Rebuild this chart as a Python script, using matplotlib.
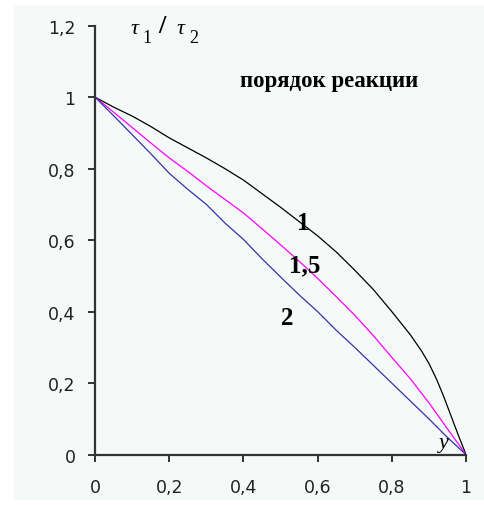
import matplotlib.pyplot as plt
from matplotlib.patches import Rectangle
from matplotlib.ticker import FuncFormatter

# conversion y
x_vals = [0, 0.05, 0.1, 0.15, 0.2, 0.25, 0.3, 0.35, 0.4, 0.45, 0.5,
          0.55, 0.6, 0.65, 0.7, 0.75, 0.8, 0.85, 0.9, 0.95, 1.0]

# order 1 (black) - denser near the end
x_order1 = [0, 0.05, 0.1, 0.15, 0.2, 0.25, 0.3, 0.35, 0.4, 0.45, 0.5,
            0.55, 0.6, 0.65, 0.7, 0.75, 0.8, 0.85, 0.88, 0.9, 0.92, 0.94, 0.96, 0.98, 1.0]
y_order1 = [1.0, 0.972, 0.947, 0.918, 0.886, 0.858, 0.830, 0.800, 0.768, 0.730, 0.692,
            0.652, 0.612, 0.567, 0.516, 0.462, 0.400, 0.335, 0.290, 0.255, 0.212, 0.162,
            0.107, 0.052, 0.0]

# order 1.5 (magenta)
y_order15 = [1.0, 0.958, 0.915, 0.872, 0.830, 0.792, 0.752, 0.714, 0.676, 0.632, 0.587,
             0.541, 0.493, 0.442, 0.390, 0.333, 0.272, 0.212, 0.145, 0.072, 0.0]

# order 2 (blue)
y_order2 = [1.0, 0.948, 0.895, 0.842, 0.787, 0.742, 0.700, 0.648, 0.602, 0.548, 0.497,
            0.447, 0.400, 0.348, 0.300, 0.250, 0.200, 0.150, 0.100, 0.048, 0.0]

xticks = [0, 0.2, 0.4, 0.6, 0.8, 1.0]
yticks = [0, 0.2, 0.4, 0.6, 0.8, 1.0, 1.2]

plt.rcParams['font.family'] = ['Liberation Sans Narrow', 'DejaVu Sans']

fig = plt.figure(figsize=(4.85, 5.06), dpi=100)
bg = '#f5faf8'
# chart area background (Excel style)
fig.patches.append(Rectangle((14 / 485, 6 / 506), 1 - 14 / 485, 1 - 12 / 506,
                             transform=fig.transFigure, color=bg, zorder=-5))

ax = fig.add_axes([0.196, 0.0994, 0.765, 0.848])
ax.set_facecolor(bg)

ax.plot(x_order1, y_order1, color='black', lw=0.9)
ax.plot(x_vals, y_order15, color='#ff00ff', lw=0.9)
ax.plot(x_vals, y_order2, color='#3333aa', lw=0.9)

ax.set_xlim(0, 1)
ax.set_ylim(0, 1.2)
ax.set_xticks(xticks)
ax.set_yticks(yticks)
fmt = FuncFormatter(lambda v, p: ('%g' % round(v, 1)).replace('.', ','))
ax.xaxis.set_major_formatter(fmt)
ax.yaxis.set_major_formatter(fmt)

for s in ['top', 'right']:
    ax.spines[s].set_visible(False)
for s in ['left', 'bottom']:
    ax.spines[s].set_color('#333333')
    ax.spines[s].set_linewidth(1.6)
ax.tick_params(direction='out', length=5, width=1.4, color='#333333',
               labelsize=12.5, labelcolor='#222222')
ax.tick_params(axis='y', pad=9)
ax.tick_params(axis='x', pad=12)

serif = ['Liberation Serif', 'DejaVu Serif']
ax.text(0.56, 0.65, '1', family=serif, weight='bold', fontsize=18, ha='center', va='center')
ax.text(0.566, 0.53, '1,5', family=serif, weight='bold', fontsize=18, ha='center', va='center')
ax.text(0.517, 0.385, '2', family=serif, weight='bold', fontsize=18, ha='center', va='center')
ax.text(0.39, 1.047, 'порядок реакции', family=serif, weight='bold', fontsize=16.5,
        ha='left', va='center')

# tau_1 / tau_2 label
ax.text(0.105, 1.193, 'τ', family=serif, style='italic', fontsize=16, ha='center', va='center', clip_on=False)
ax.text(0.141, 1.168, '1', family=serif, fontsize=13, ha='center', va='center', clip_on=False)
ax.text(0.18, 1.20, '/', family=serif, weight='bold', fontsize=19, ha='center', va='center', clip_on=False)
ax.text(0.231, 1.193, 'τ', family=serif, style='italic', fontsize=16, ha='center', va='center', clip_on=False)
ax.text(0.267, 1.168, '2', family=serif, fontsize=13, ha='center', va='center', clip_on=False)

ax.text(0.939, 0.035, 'y', family=serif, style='italic', fontsize=16,
        ha='center', va='center')

fig.savefig('out.png', dpi=100)
